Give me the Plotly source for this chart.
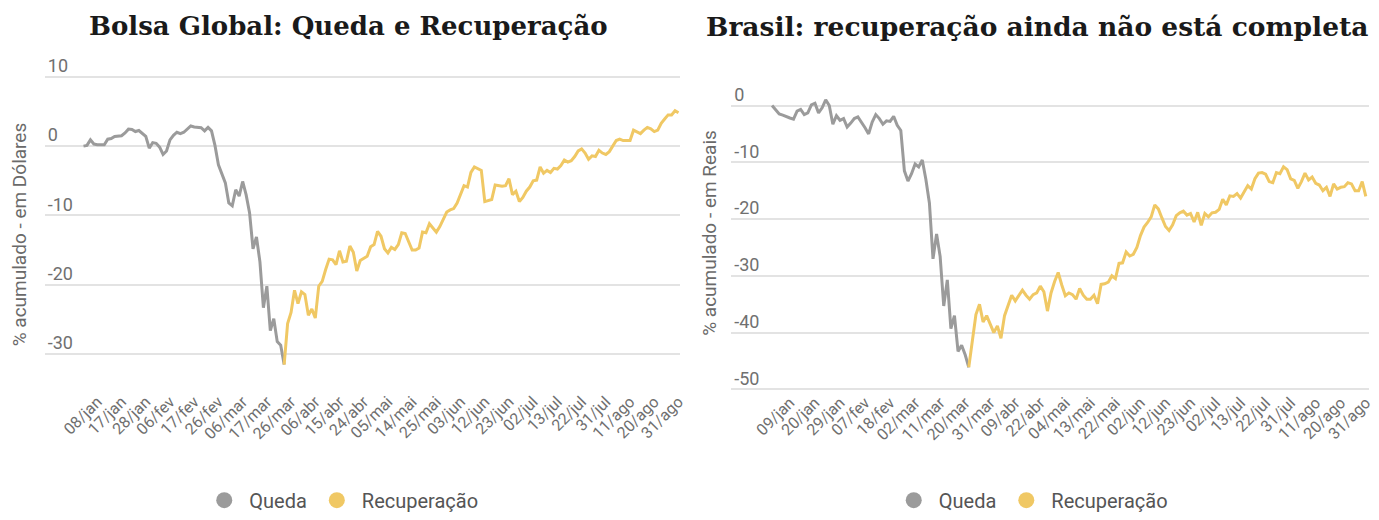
import pandas as pd
import plotly.graph_objects as go

W, H = 1379, 520

# ---------------- data ----------------
MESES = {1: "jan", 2: "fev", 3: "mar", 4: "abr", 5: "mai", 6: "jun", 7: "jul", 8: "ago"}

inicio, fim = "2020-01-02", "2020-08-31"
feriados_b3 = ["2020-02-24", "2020-02-25", "2020-04-10", "2020-04-21", "2020-05-01", "2020-06-11"]

datas_global = [f"{d.day:02d}/{MESES[d.month]}" for d in pd.bdate_range(inicio, fim)]
datas_brasil = [f"{d.day:02d}/{MESES[d.month]}"
                for d in pd.bdate_range(inicio, fim, freq="C", holidays=feriados_b3)]

# % acumulado - em Dólares (Bolsa global)
global_queda = [
    0.0, 0.1, 0.9, 0.3, 0.2, 0.2, 0.2, 1.0, 1.1, 1.4,
    1.45, 1.5, 1.9, 2.45, 2.4, 2.1, 2.25, 1.85, 1.4, -0.3,
    0.5, 0.4, -0.15, -1.2, -0.7, 0.9, 1.55, 2.0, 1.8, 2.0,
    2.4, 2.9, 2.75, 2.7, 2.65, 2.2, 2.7, 2.2, 0.1, -2.7,
    -3.9, -5.3, -8.2, -8.6, -6.3, -7.2, -5.1, -7.0, -9.6, -14.8,
    -13.1, -16.7, -23.3, -20.2, -26.6, -24.9, -28.2, -28.7, -31.5,
]
global_recuperacao = [
    -31.5,
    -25.6, -24.0, -20.8, -22.7, -21.0, -21.4, -24.4, -23.5, -24.8,
    -20.2, -19.5, -17.8, -16.3, -16.4, -17.1, -15.1, -16.7, -16.6, -14.4,
    -15.3, -18.0, -16.5, -16.2, -15.9, -14.5, -14.2, -12.3, -13.0, -14.8,
    -15.4, -14.6, -14.9, -14.2, -12.5, -12.6, -13.8, -15.0, -15.0, -14.7,
    -12.4, -12.5, -11.2, -11.8, -12.4, -11.6, -10.5, -9.5, -9.2, -9.0,
    -8.2, -7.0, -5.7, -5.9, -3.8, -3.0, -3.3, -3.5,
    -8.0, -7.8, -7.7, -5.6, -5.7, -5.8, -5.7, -4.7, -7.0, -6.5,
    -8.0, -7.4, -6.5, -5.9, -5.0, -4.9, -3.0, -3.9, -3.5, -3.8,
    -3.2, -3.3, -2.8, -2.0, -2.3, -2.1, -1.5, -0.7, -0.4, -1.0,
    -1.9, -1.4, -1.5, -0.6, -1.0, -1.2, -0.8, 0.0, 0.8, 1.0,
    0.8, 0.8, 0.8, 2.3, 2.1, 1.8, 2.3, 2.7, 2.5, 2.1,
    2.3, 3.3, 3.9, 4.5, 4.5, 5.1, 4.8,
]

# % acumulado - em Reais (Brasil)
brasil_queda = [
    0.0, -0.8, -1.5, -1.7, -2.0, -2.2, -2.4, -1.0, -0.7, -1.6,
    -1.3, 0.1, 0.4, -1.3, -0.4, 1.0, 0.0, -3.3, -1.8, -2.6,
    -2.3, -3.8, -3.1, -2.3, -2.0, -2.9, -3.9, -5.0, -2.9, -1.6,
    -2.3, -3.3, -2.7, -2.8, -1.9, -3.5, -4.4, -11.5, -13.3, -12.0,
    -10.3, -10.8, -9.6, -13.0, -17.2, -27.0, -22.6, -26.6, -35.3, -30.7,
    -39.3, -37.0, -43.3, -42.2, -43.9, -46.1,
]
brasil_recuperacao = [
    -46.1,
    -41.0, -36.8, -35.0, -38.1, -37.0, -38.5, -40.0, -38.8, -41.0, -37.0,
    -35.0, -33.4, -34.4, -33.4, -32.5, -33.4, -34.1, -33.3, -33.0, -31.8,
    -32.8, -36.2, -33.0, -31.0, -29.4, -31.6, -33.5, -33.0, -33.3, -34.1,
    -32.2, -33.4, -34.1, -34.1, -33.4, -34.9, -31.5, -31.4, -31.1, -30.0,
    -30.5, -27.8, -27.7, -25.8, -26.5, -26.2, -25.0, -22.9, -21.4, -20.6,
    -19.6, -17.5,
    -18.2, -19.8, -21.3, -22.0, -21.0, -19.4, -18.9, -18.6, -19.3, -19.0,
    -20.5, -18.8, -21.1, -19.0, -19.6, -18.9, -18.8, -18.3, -16.5, -17.5,
    -15.9, -16.0, -15.5, -16.3, -15.1, -14.1, -14.7, -12.9, -11.9, -11.8,
    -12.1, -13.4, -13.6, -11.8, -12.0, -10.8, -11.3, -12.9, -13.2, -14.6,
    -13.4, -11.9, -13.1, -12.6, -13.7, -14.0, -15.0, -14.4, -16.0, -13.8,
    -14.7, -14.4, -14.3, -13.6, -13.8, -15.0, -15.0, -13.4, -16.0,
]

ticks_global = datas_global[4::7]
ticks_brasil = datas_brasil[5::7]
yticks_global = [10, 0, -10, -20, -30]
yticks_brasil = [0, -10, -20, -30, -40, -50]

titulo_global = "Bolsa Global: Queda e Recuperação"
titulo_brasil = "Brasil: recuperação ainda não está completa"
eixo_global = "% acumulado - em Dólares"
eixo_brasil = "% acumulado - em Reais"

COR_QUEDA = "#9b9b9b"
COR_REC = "#f0c864"
FONT = "Roboto"

# ---------------- figure ----------------
fig = go.Figure()

nq = len(global_queda)
fig.add_trace(go.Scatter(x=datas_global[:nq], y=global_queda, mode="lines",
                         line=dict(color=COR_QUEDA, width=3), showlegend=False,
                         xaxis="x", yaxis="y", hoverinfo="skip"))
fig.add_trace(go.Scatter(x=datas_global[nq - 1:], y=global_recuperacao, mode="lines",
                         line=dict(color=COR_REC, width=3), showlegend=False,
                         xaxis="x", yaxis="y", hoverinfo="skip"))
nb = len(brasil_queda)
fig.add_trace(go.Scatter(x=datas_brasil[:nb], y=brasil_queda, mode="lines",
                         line=dict(color=COR_QUEDA, width=3), showlegend=False,
                         xaxis="x2", yaxis="y2", hoverinfo="skip"))
fig.add_trace(go.Scatter(x=datas_brasil[nb - 1:], y=brasil_recuperacao, mode="lines",
                         line=dict(color=COR_REC, width=3), showlegend=False,
                         xaxis="x2", yaxis="y2", hoverinfo="skip"))

# legend entries (circle symbols)
for leg, xa, ya in (("legend", "x", "y"), ("legend2", "x2", "y2")):
    for nome, cor in (("Queda", COR_QUEDA), ("Recuperação", COR_REC)):
        fig.add_trace(go.Scatter(x=[None], y=[None], mode="markers", name=nome,
                                 marker=dict(color=cor, size=22, symbol="circle"),
                                 legend=leg, xaxis=xa, yaxis=ya))

def px_x(p):
    return p / W

def px_y(p):
    return 1 - p / H

xcommon = dict(type="category", showgrid=False, zeroline=False, showline=False,
               ticks="", tickangle=-45,
               tickfont=dict(family=FONT, size=16, color="#6f6f6f"),
               fixedrange=True)
ycommon = dict(showgrid=True, gridcolor="#e3e3e3", gridwidth=1.5, zeroline=False,
               showline=False, ticks="", ticklabelposition="inside", ticklabelshift=-11,
               ticklabelstandoff=0, tickfont=dict(family=FONT, size=18, color="#707070"),
               fixedrange=True)

# left panel: 0 -> y=149px, 7.07 px per unit; idx0 at 84px, 3.477 px per idx
# right panel: 0 -> y=107.5px, 5.79 px per unit; idx0 at 776px, 3.596 px per idx
fig.update_layout(
    xaxis=dict(domain=[px_x(45), px_x(683)], range=[-11.2, 172.3],
               tickmode="array", tickvals=ticks_global, ticktext=ticks_global,
               anchor="y", ticklabelstandoff=0, **xcommon),
    yaxis=dict(domain=[px_y(396), px_y(50)], range=[-34.94, 14.0],
               tickmode="array", tickvals=yticks_global,
               ticktext=[str(v) for v in yticks_global], anchor="x", **ycommon),
    xaxis2=dict(domain=[px_x(735), px_x(1376)], range=[-11.4, 166.9],
                tickmode="array", tickvals=ticks_brasil, ticktext=ticks_brasil,
                anchor="y2", ticklabelstandoff=-3, **xcommon),
    yaxis2=dict(domain=[px_y(400), px_y(85)], range=[-50.5, 3.9],
                tickmode="array", tickvals=yticks_brasil,
                ticktext=[str(v) for v in yticks_brasil], anchor="x2", **ycommon),
)

legcommon = dict(orientation="h", xanchor="center", yanchor="middle", itemwidth=40,
                 font=dict(family=FONT, size=20, color="#555555"),
                 bgcolor="rgba(0,0,0,0)", itemclick=False, itemdoubleclick=False)
fig.update_layout(
    legend=dict(x=px_x(343), y=px_y(510), **legcommon),
    legend2=dict(x=px_x(1036), y=px_y(510), **legcommon),
)

ann = []
for txt, cx, fs in ((titulo_global, 350, 26), (titulo_brasil, 1042, 26.5)):
    ann.append(dict(text=f"<b>{txt}</b>", x=px_x(cx), y=px_y(27), xref="paper", yref="paper",
                    xanchor="center", yanchor="middle", showarrow=False,
                    font=dict(family="DejaVu Serif", size=fs, color="#1a1a1a")))
for txt, cx, cy in ((eixo_global, 20, 239), (eixo_brasil, 713, 237)):
    ann.append(dict(text=txt, x=px_x(cx), y=px_y(cy), xref="paper", yref="paper",
                    xanchor="center", yanchor="middle", showarrow=False, textangle=-90,
                    font=dict(family=FONT, size=19, color="#6a6a6a")))

fig.update_layout(
    width=W, height=H, margin=dict(l=0, r=0, t=0, b=0),
    paper_bgcolor="white", plot_bgcolor="white",
    annotations=ann, font=dict(family=FONT),
)

fig.write_html(
    "out.html",
    config={"displayModeBar": False},
    post_script=("document.body.style.margin='0';document.body.style.padding='0';"
                 "document.documentElement.style.overflow='hidden';"),
)
